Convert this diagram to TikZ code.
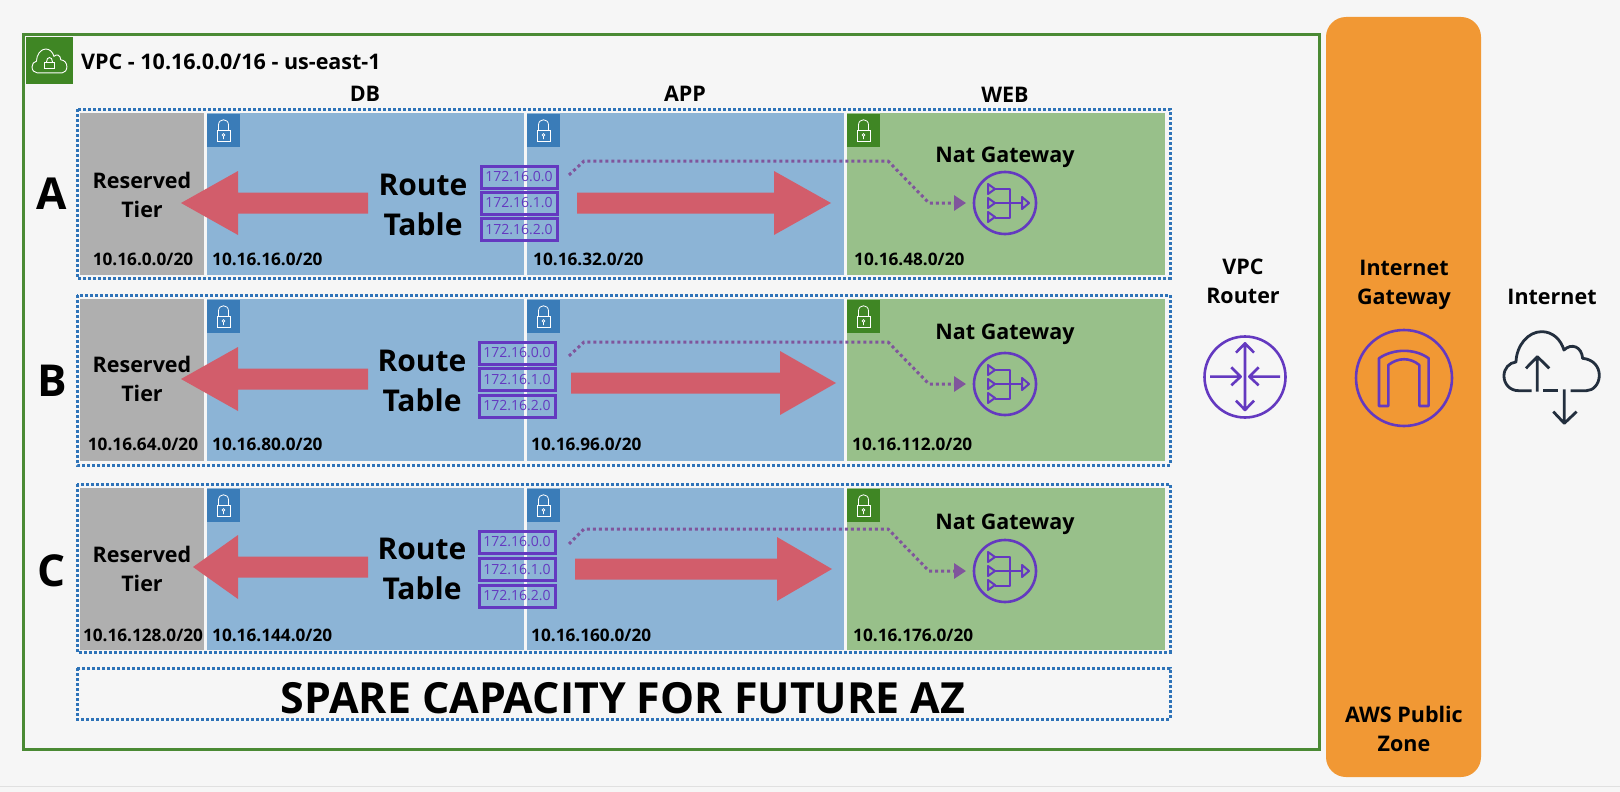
\documentclass[tikz,border=0pt]{standalone}
\usepackage{fontspec}
\setmainfont{Open Sans}
\usetikzlibrary{arrows.meta}

\definecolor{pagebg}{HTML}{F6F6F6}
\definecolor{vpcgreen}{HTML}{4A8A34}
\definecolor{zoneblue}{HTML}{2E73B8}
\definecolor{cellblue}{HTML}{8CB4D6}
\definecolor{cellgreen}{HTML}{98C08A}
\definecolor{cellgray}{HTML}{AFAFAF}
\definecolor{lockblue}{HTML}{3A7CB8}
\definecolor{lockgreen}{HTML}{3F8624}
\definecolor{igworange}{HTML}{F19834}
\definecolor{arrowred}{HTML}{D25D6B}
\definecolor{natpurple}{HTML}{6439C0}
\definecolor{dotpurple}{HTML}{80559C}
\definecolor{clouddark}{HTML}{232F3E}

\newcommand{\fsz}[1]{\fontsize{#1}{#1}\selectfont}
\newcommand{\cloudarc}{(1075,482) .. controls (1050,482) and (1032,462) .. (1032,438) .. controls (1032,415) and (1048,398) .. (1068,396) .. controls (1070,345) and (1105,305) .. (1145,305) .. controls (1178,305) and (1202,328) .. (1212,360) .. controls (1235,338) and (1265,350) .. (1268,385) .. controls (1300,388) and (1318,410) .. (1318,436) .. controls (1318,462) and (1300,482) .. (1280,482)}
% tail, base of head, tip, centre
\newcommand{\blockarrow}[4]{\fill[arrowred] (#1,{#4-10.5}) -- (#2,{#4-10.5}) -- (#2,{#4-32}) -- (#3,#4) -- (#2,{#4+32}) -- (#2,{#4+10.5}) -- (#1,{#4+10.5}) -- cycle;}

\tikzset{
  zone/.style={draw=zoneblue, line width=3pt, dash pattern=on 2.6pt off 2.4pt},
  lbl/.style={font=\bfseries\fsz{17.2}, inner sep=0pt},
  tier/.style={font=\bfseries\fsz{21.5}, inner sep=0pt},
  bigtxt/.style={font=\bfseries\fontsize{30}{40}\selectfont, align=center, inner sep=0pt},
  midtxt/.style={font=\bfseries\fontsize{21.5}{29}\selectfont, align=center, inner sep=0pt},
  rtbox/.style={draw=natpurple, line width=3pt, minimum width=76pt, minimum height=22pt, inner sep=0pt, text=natpurple, font=\fsz{14}},
  icon/.style={draw=natpurple, line width=2.6pt, line join=round},
  lockicon/.pic={
    \draw[white, line width=.8pt] (10,16) rectangle (23,27);
    \draw[white, line width=.8pt] (11.5,16) -- (11.5,11) .. controls (11.5,4) and (21.5,4) .. (21.5,11) -- (21.5,16);
    \draw[white, line width=.7pt] (16.5,21) circle (1.4) (16.5,22.4) -- (16.5,25);
  },
  natgw/.pic={
    \draw[icon] (0,0) circle (31);
    \draw[icon, line width=2pt] (-10,-14) -- (4.5,-14) -- (4.5,15) -- (-10,15) (-10,0) -- (17,0);
    \foreach \ty in {-14,0,14}
      \draw[icon, line width=2pt] (-17,{\ty-5}) -- (-10,\ty) -- (-17,{\ty+5}) -- cycle;
    \draw[icon, line width=2pt] (17,-6) -- (24,0) -- (17,6) -- cycle;
  }
}

\begin{document}
\begin{tikzpicture}[x=1pt, y=-1pt]

  \useasboundingbox (0,0) rectangle (1620,792);
  \fill[pagebg] (0,0) rectangle (1620,792);
  \draw[black!12, line width=1pt] (0,786) -- (1620,786);

  % VPC
  \draw[vpcgreen, line width=3pt] (23.5,35) rectangle (1319,749);
  \fill[lockgreen] (26,37) rectangle (73,84);
  \begin{scope}[shift={(-93.9,7.8)}, x=.122pt, y=-.135pt]
    \draw[white, line width=.9pt] \cloudarc -- cycle;
  \end{scope}
  \draw[white, line width=.9pt] (44.5,62) rectangle (54.5,68.5);
  \draw[white, line width=.9pt] (46.5,62) .. controls (46.5,56) and (52.5,56) .. (52.5,62);
  \node[tier, anchor=west] (vpctitle) at (81,62) {VPC - 10.16.0.0/16 - us-east-1};

  % tiers
  \node[tier] (db) at (365,94) {DB};
  \node[tier] (app) at (685,94) {APP};
  \node[tier] (web) at (1005,95) {WEB};

  % subnets of each AZ
  \foreach \az/\ay/\zt/\zb/\ct/\cb/\ly/\appx/\webx/\ra/\rb/\rc/\rd/\ty in {
    A/194/109/278/113/275/259/533/854/10.16.0.0/10.16.16.0/10.16.32.0/10.16.48.0/194.5,
    B/381/295/465/299/461/444/531/852/10.16.64.0/10.16.80.0/10.16.96.0/10.16.112.0/379,
    C/571/484/652/488/650/635/531/853/10.16.128.0/10.16.144.0/10.16.160.0/10.16.176.0/568.5} {
    \draw[zone] (77,\zt) rectangle (1170,\zb);
    \fill[cellgray] (80,\ct) rectangle (204,\cb);
    \fill[cellblue] (207,\ct) rectangle (523.5,\cb);
    \fill[cellblue] (527,\ct) rectangle (843.5,\cb);
    \fill[cellgreen] (847,\ct) rectangle (1165,\cb);
    \fill[lockblue] (207,\ct+1) rectangle (240,\ct+34);
    \fill[lockblue] (527,\ct+1) rectangle (560,\ct+34);
    \fill[lockgreen] (847,\ct+1) rectangle (880,\ct+34);
    \pic at (207,\ct+1) {lockicon};
    \pic at (527,\ct+1) {lockicon};
    \pic at (847,\ct+1) {lockicon};
    \node[font=\bfseries\fsz{44}, inner sep=0pt] (az\az) at (52,\ay) {\az};
    \node[midtxt] (res\az) at (142,\ty) {Reserved\\Tier};
    \node[lbl] (neta\az) at (143,\ly) {\ra/20};
    \node[lbl, anchor=west] (netb\az) at (212,\ly) {\rb/20};
    \node[lbl, anchor=west] (netc\az) at (\appx,\ly) {\rc/20};
    \node[lbl, anchor=west] (netd\az) at (\webx,\ly) {\rd/20};
  }

  % route tables
  \foreach \az/\rx/\bx/\ya/\yb/\yc/\lt/\lb/\ll/\al/\rt/\rb/\rr/\ar in {
    A/423/519/177/203/229.5/181/238/368/203/577/774/831/203,
    B/422/517/353/379.5/406/181/238/368/379/571/780/836/383,
    C/422/517/542/569.5/596/193/238/368/567/575/777/832/569} {
    \blockarrow{\ll}{\lb}{\lt}{\al}
    \blockarrow{\rt}{\rb}{\rr}{\ar}
    \node[bigtxt] (rt\az) at (\rx,\al+2) {Route\\Table};
    \node[rtbox] (rta\az) at (\bx,\ya) {172.16.0.0};
    \node[rtbox] (rtb\az) at (\bx,\yb) {172.16.1.0};
    \node[rtbox] (rtc\az) at (\bx,\yc) {172.16.2.0};
  }

  % nat gateways
  \foreach \az/\ny/\ty/\py/\sy in {A/203/157/161/175, B/384/334/342/356, C/571/524/529/544} {
    \pic at (1005,\ny) {natgw};
    \node[font=\bfseries\fsz{21.5}, inner sep=0pt] (nat\az) at (1005,\ty) {Nat Gateway};
    \coordinate (src\az) at (569,\sy);
    \coordinate (dst\az) at (966,\ny);
    \draw[dotpurple, line width=3pt, dash pattern=on 3pt off 3pt, -{Triangle[length=12pt,width=15pt]}]
      (src\az) -- (584,\py) -- (888,\py) -- (929,\ny) -- (dst\az);
  }

  % spare
  \draw[zone] (77,668) rectangle (1170,719);
  \node[font=\bfseries\fsz{42.9}, inner sep=0pt] (spare) at (623,698) {SPARE CAPACITY FOR FUTURE AZ};

  % router
  \node[midtxt] (router) at (1243,281) {VPC\\Router};
  \draw[icon] (1245,377) circle (40.5);
  \begin{scope}[shift={(1160,230)}, x=.3333pt, y=-.3333pt]
    \draw[icon] (255,340) -- (255,540) (228,368) -- (255,340) -- (282,368) (228,512) -- (255,540) -- (282,512);
    \draw[icon] (150,440) -- (240,440) (214,412) -- (242,440) -- (214,466);
    \draw[icon] (360,440) -- (270,440) (296,412) -- (268,440) -- (296,466);
  \end{scope}

  % internet gateway
  \fill[igworange] (1326,17) [rounded corners=20pt] rectangle (1481,777);
  \node[midtxt] (igw) at (1404,284.5) {Internet\\Gateway};
  \draw[icon] (1404,378) circle (48);
  \begin{scope}[shift={(1160,230)}, x=.3333pt, y=-.3333pt]
    \draw[icon] (657,528) -- (657,385) .. controls (700,355) and (765,355) .. (806,385) -- (806,528) -- (778,528) -- (778,405) .. controls (750,382) and (715,382) .. (685,405) -- (685,528) -- cycle;
  \end{scope}
  \node[midtxt] (pub) at (1404,729) {AWS Public\\Zone};

  % internet
  \node[midtxt] (inet) at (1552,297) {Internet};
  \begin{scope}[shift={(1160,230)}, x=.3333pt, y=-.3333pt]
    \draw[clouddark, line width=2.8pt, line join=round] (1115,482) -- \cloudarc -- (1232,482);
    \draw[clouddark, line width=2.8pt] (1150,482) -- (1195,482);
    \draw[clouddark, line width=2.8pt, line join=round] (1132,485) -- (1132,380) (1098,415) -- (1132,380) -- (1168,415);
    \draw[clouddark, line width=2.8pt, line join=round] (1213,478) -- (1213,580) (1180,545) -- (1213,580) -- (1250,545);
  \end{scope}

\end{tikzpicture}
\end{document}
